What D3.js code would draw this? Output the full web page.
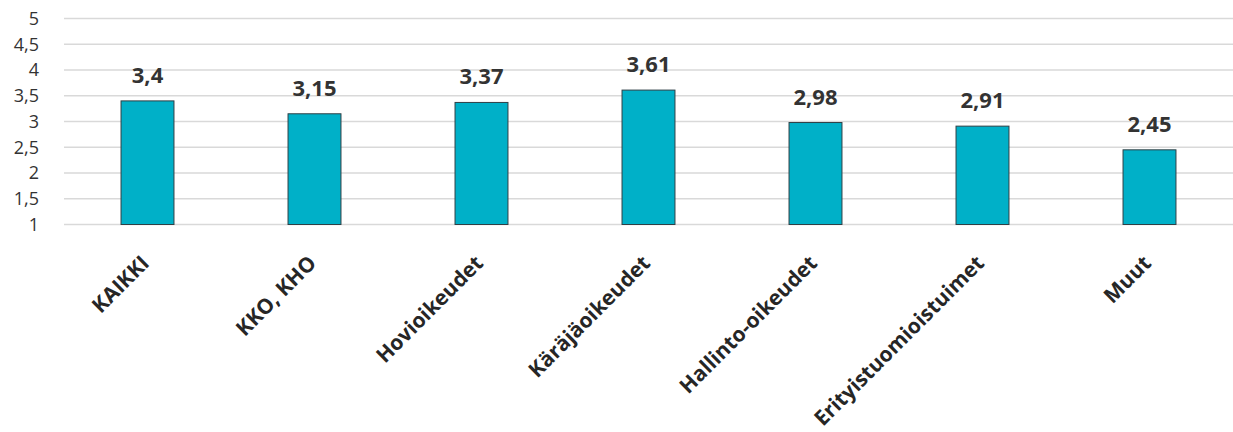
<!DOCTYPE html>
<html>
<head>
<meta charset="utf-8">
<script src="https://cdn.jsdelivr.net/npm/d3@7"></script>
<style>
  html, body { margin: 0; padding: 0; background: #fff; }
  svg { display: block; font-family: "Open Sans", "Noto Sans", sans-serif; }
</style>
</head>
<body>
<svg id="chart" width="1233" height="432"></svg>
<script>
// Court categories and their mean scores
const categories = ["KAIKKI", "KKO, KHO", "Hovioikeudet", "Käräjäoikeudet", "Hallinto-oikeudet", "Erityistuomioistuimet", "Muut"];
const values = [3.4, 3.15, 3.37, 3.61, 2.98, 2.91, 2.45];
const yTicks = [1, 1.5, 2, 2.5, 3, 3.5, 4, 4.5, 5];

const svg = d3.select("#chart");
const margin = { left: 64, right: 0, top: 18.5, bottom: 207.5 };
const W = 1233, H = 432;

const x = d3.scaleBand()
  .domain(categories)
  .range([margin.left, W - margin.right])
  .paddingInner(0.683)
  .paddingOuter(0.3415);

const y = d3.scaleLinear()
  .domain([1, 5])
  .range([H - margin.bottom, margin.top]);

const fmt = v => String(v).replace(".", ",");

// Horizontal gridlines
svg.append("g")
  .selectAll("line")
  .data(yTicks)
  .join("line")
  .attr("x1", margin.left)
  .attr("x2", W - margin.right)
  .attr("y1", d => y(d))
  .attr("y2", d => y(d))
  .attr("stroke", "#d9d9d9")
  .attr("stroke-width", 1.5);

// Y axis labels
const yAxis = d3.axisLeft(y).tickValues(yTicks).tickFormat(fmt).tickSize(0).tickPadding(0);
const gy = svg.append("g").attr("transform", `translate(39,0)`).call(yAxis);
gy.select(".domain").remove();
gy.selectAll("text")
  .attr("font-size", 18)
  .attr("fill", "#333")
  .attr("font-family", "Open Sans, Noto Sans, sans-serif");

// Bars
svg.append("g")
  .selectAll("rect")
  .data(values)
  .join("rect")
  .attr("x", (d, i) => x(categories[i]))
  .attr("width", x.bandwidth())
  .attr("y", d => y(d))
  .attr("height", d => y(1) - y(d))
  .attr("fill", "#00b0c8")
  .attr("stroke", "#2f3f45")
  .attr("stroke-width", 1);

// Value labels
svg.append("g")
  .selectAll("text")
  .data(values)
  .join("text")
  .attr("x", (d, i) => x(categories[i]) + x.bandwidth() / 2)
  .attr("y", d => y(d) - 18)
  .attr("text-anchor", "middle")
  .attr("font-size", 22)
  .attr("font-weight", "bold")
  .attr("fill", "#333")
  .text(fmt);

// Rotated category labels
const xAxis = d3.axisBottom(x).tickSize(0).tickPadding(0);
const gx = svg.append("g").attr("transform", `translate(0,${y(1)})`).call(xAxis);
gx.select(".domain").remove();
gx.selectAll("text")
  .attr("font-size", 21)
  .attr("font-weight", "bold")
  .attr("fill", "#262626")
  .attr("font-family", "Open Sans, Noto Sans, sans-serif")
  .attr("text-anchor", "end")
  .attr("dy", null)
  .attr("y", 0)
  .attr("transform", "translate(3,40) rotate(-45)");
</script>
</body>
</html>
